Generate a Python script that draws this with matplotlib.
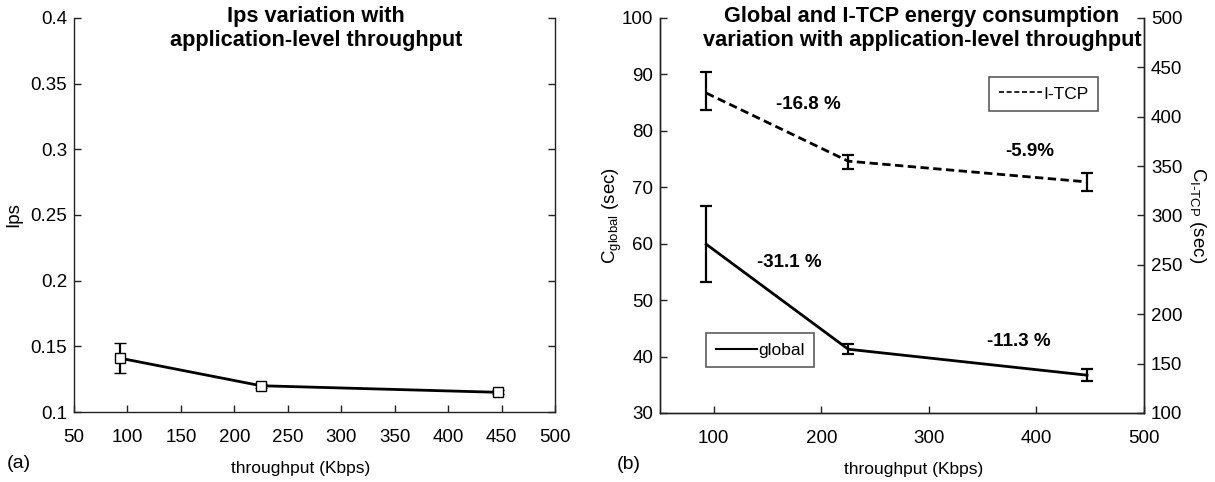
import matplotlib
matplotlib.use("Agg")
import matplotlib.pyplot as plt
from matplotlib.lines import Line2D
import numpy as np

plt.rcParams['font.family'] = ['Liberation Sans', 'DejaVu Sans']
plt.rcParams['mathtext.fontset'] = 'custom'
plt.rcParams['mathtext.rm'] = 'Liberation Sans'

# ---- data ----
throughput = [93, 225, 447]

ips = [0.141, 0.120, 0.115]
ips_low = [0.130, 0.1185, 0.1135]
ips_high = [0.1525, 0.1215, 0.1165]

c_global = [59.9, 41.3, 36.7]
c_global_low = [53.2, 40.4, 35.6]
c_global_high = [66.6, 42.2, 37.8]

c_itcp = [424, 355, 334]
c_itcp_low = [407, 347, 325]
c_itcp_high = [445, 361, 343]

ips_yticks = [0.1, 0.15, 0.2, 0.25, 0.3, 0.35, 0.4]
ips_ytick_labels = ['0.1', '0.15', '0.2', '0.25', '0.3', '0.35', '0.4']
a_xticks = [50, 100, 150, 200, 250, 300, 350, 400, 450, 500]
b_xticks = [100, 200, 300, 400, 500]
global_yticks = [30, 40, 50, 60, 70, 80, 90, 100]
itcp_yticks = [100, 150, 200, 250, 300, 350, 400, 450, 500]

pct_labels = ['-16.8 %', '-5.9%', '-31.1 %', '-11.3 %']
pct_x = [188, 394, 170, 384]
pct_y = [84.6, 76.4, 56.6, 42.6]

TICK_FS = 13.5
LABEL_FS = 12.5
YLABEL_FS = 13.5
TITLE_FS = 15.7

fig = plt.figure(figsize=(12.15, 4.82), dpi=100)
axA = fig.add_axes([0.0609, 0.1452, 0.3959, 0.8175])
axB = fig.add_axes([0.5432, 0.1432, 0.3984, 0.8195])
axB2 = axB.twinx()


def style(ax):
    ax.spines['top'].set_visible(False)
    for s in ['left', 'right', 'bottom']:
        ax.spines[s].set_color('#222222')
        ax.spines[s].set_linewidth(1.0)
    ax.tick_params(direction='in', length=5, width=1, labelsize=TICK_FS, color='#222222')


# ---- panel (a) ----
style(axA)
yerrA = [np.array(ips) - np.array(ips_low), np.array(ips_high) - np.array(ips)]
axA.errorbar(throughput, ips, yerr=yerrA, color='black', lw=2, elinewidth=1.6,
             capsize=4, capthick=1.6, marker='s', markersize=6.5,
             markerfacecolor='white', markeredgecolor='black', markeredgewidth=1)
axA.set_xlim(50, 500)
axA.set_ylim(0.1, 0.4)
axA.set_xticks(a_xticks)
axA.set_yticks(ips_yticks)
axA.set_yticklabels(ips_ytick_labels)
axA.tick_params(axis='y', right=True, which='both', pad=5)
axA.tick_params(axis='x', pad=12)
axA.set_ylabel('Ips', fontsize=YLABEL_FS)
axA.yaxis.set_label_coords(-0.108, 0.5)
axA.set_xlabel('throughput (Kbps)', fontsize=LABEL_FS)
axA.xaxis.set_label_coords(0.472, -0.124)
axA.text(0.503, 1.03, 'Ips variation with\napplication-level throughput',
         transform=axA.transAxes, ha='center', va='top', fontsize=TITLE_FS,
         fontweight='bold', linespacing=1.2)
axA.text(-0.14, -0.13, '(a)', transform=axA.transAxes, ha='left', va='center', fontsize=14)

# ---- panel (b) ----
style(axB)
style(axB2)
yerrG = [np.array(c_global) - np.array(c_global_low), np.array(c_global_high) - np.array(c_global)]
yerrI = [np.array(c_itcp) - np.array(c_itcp_low), np.array(c_itcp_high) - np.array(c_itcp)]
lg = axB.errorbar(throughput, c_global, yerr=yerrG, color='black', lw=2,
                  elinewidth=1.6, capsize=4, capthick=1.6)
li = axB2.errorbar(throughput, c_itcp, yerr=yerrI, color='black', lw=2,
                   linestyle=(0, (3, 1.6)), elinewidth=1.6, capsize=4, capthick=1.6)
li[-1][0].set_linestyle('solid')
axB.set_xlim(50, 500)
axB.set_ylim(30, 100)
axB2.set_ylim(100, 500)
axB.set_xticks(b_xticks)
axB.set_yticks(global_yticks)
axB2.set_yticks(itcp_yticks)
axB.tick_params(axis='x', pad=12)
axB.tick_params(axis='y', right=False, pad=5)
axB2.tick_params(axis='y', left=False, right=True, pad=5)
axB.set_ylabel(r'$\mathregular{C_{global}}$ (sec)', fontsize=YLABEL_FS)
axB.yaxis.set_label_coords(-0.075, 0.5)
axB2.set_ylabel(r'$\mathregular{C_{I\text{-}TCP}}$ (sec)', fontsize=YLABEL_FS, rotation=270, va='center')
axB2.yaxis.set_label_coords(1.11, 0.5)
axB.set_xlabel('throughput (Kbps)', fontsize=LABEL_FS)
axB.xaxis.set_label_coords(0.525, -0.124)
axB.text(0.541, 1.03, 'Global and I-TCP energy consumption\nvariation with application-level throughput',
         transform=axB.transAxes, ha='center', va='top', fontsize=TITLE_FS,
         fontweight='bold', linespacing=1.2)
axB.text(-0.09, -0.13, '(b)', transform=axB.transAxes, ha='left', va='center', fontsize=14)

for t, x, y in zip(pct_labels, pct_x, pct_y):
    axB.text(x, y, t, ha='center', va='center', fontsize=13.5, fontweight='bold')

h_global = Line2D([], [], color='black', lw=1.5)
h_itcp = Line2D([], [], color='black', lw=1.2, linestyle=(0, (3, 1.6)))
legG = axB.legend([h_global], ['global'], loc='upper left', bbox_to_anchor=(0.095, 0.2025),
                  fontsize=12.5, frameon=True, fancybox=False, handlelength=2.4,
                  handletextpad=0.05, borderpad=0.55, borderaxespad=0)
legG.get_frame().set_edgecolor('#333333')
legG.get_frame().set_linewidth(1.2)
legI = axB2.legend([h_itcp], ['I-TCP'], loc='upper left', bbox_to_anchor=(0.68, 0.851),
                   fontsize=12.5, frameon=True, fancybox=False, handlelength=2.5,
                   handletextpad=0.05, borderpad=0.55, borderaxespad=0)
legI.get_frame().set_edgecolor('#333333')
legI.get_frame().set_linewidth(1.2)

fig.savefig('out.png', dpi=100)
